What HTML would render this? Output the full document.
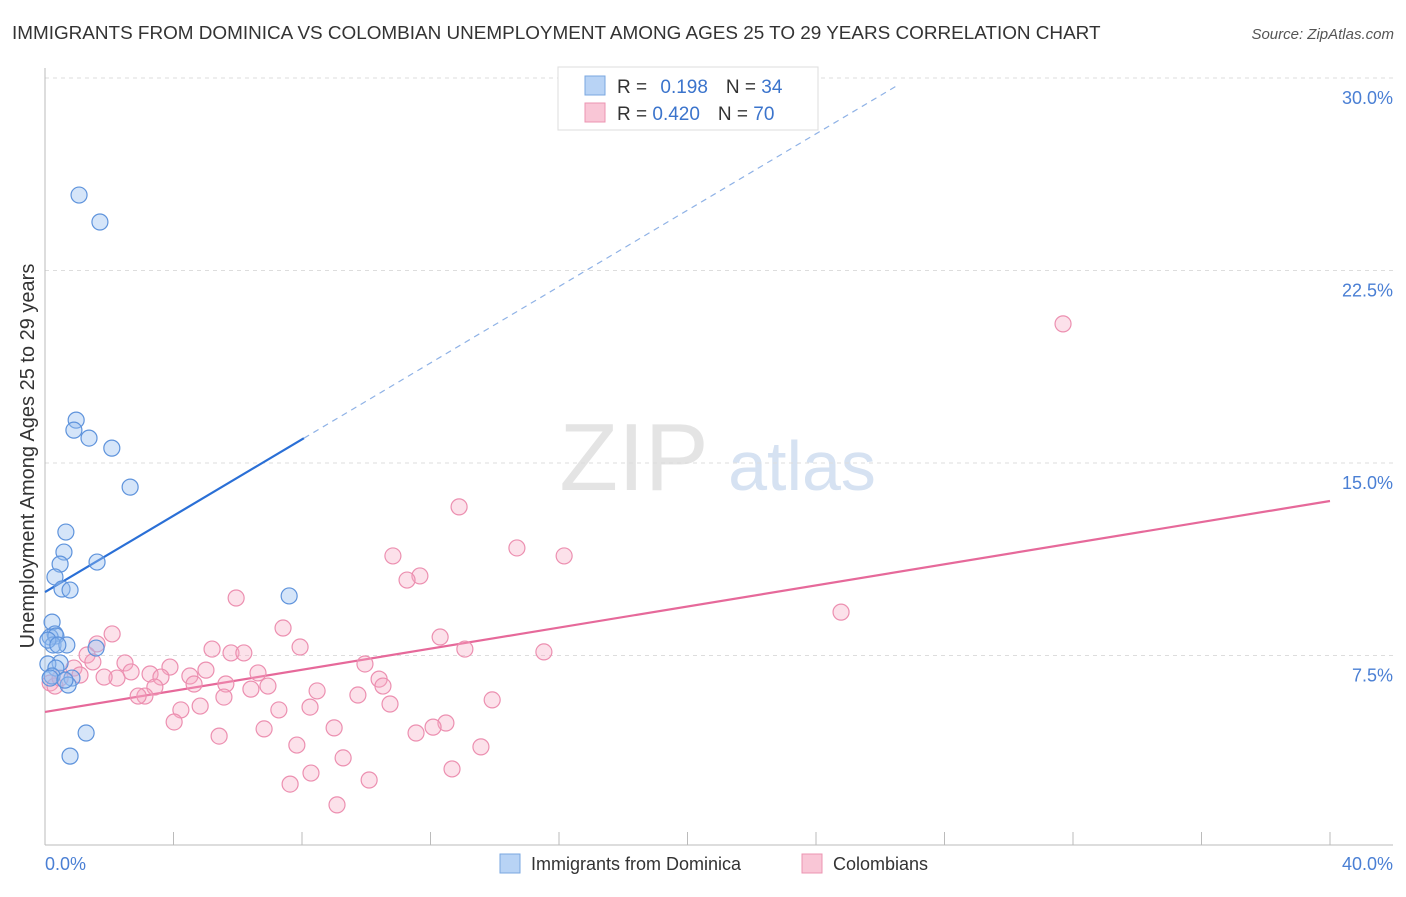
<!DOCTYPE html>
<html><head><meta charset="utf-8"><style>
body{margin:0;background:#fff;font-family:"Liberation Sans",sans-serif;}
svg text{font-family:"Liberation Sans",sans-serif;}
</style></head><body>
<svg id="chart" width="1406" height="892" xmlns="http://www.w3.org/2000/svg">
<text x="12" y="39" font-size="18.9" fill="#333">IMMIGRANTS FROM DOMINICA VS COLOMBIAN UNEMPLOYMENT AMONG AGES 25 TO 29 YEARS CORRELATION CHART</text>
<text x="1394" y="39" font-size="15" fill="#555" font-style="italic" text-anchor="end">Source: ZipAtlas.com</text>
<g>
<text x="634" y="490" font-size="96" fill="#e4e4e4" font-family="Liberation Serif" text-anchor="middle">ZIP</text>
<text x="802" y="490" font-size="70" fill="#d6e2f2" text-anchor="middle">atlas</text>
</g>
<g id="grid"></g><g id="axes"></g><g id="trends"></g><g id="points"></g>
<text x="34" y="456" font-size="20" fill="#333" text-anchor="middle" transform="rotate(-90 34 456)">Unemployment Among Ages 25 to 29 years</text>
<text x="45" y="870" font-size="18" fill="#4a7fd4">0.0%</text>
<text x="1393" y="870" font-size="18" fill="#4a7fd4" text-anchor="end">40.0%</text>
<g>
<rect x="558" y="67" width="260" height="63" fill="#fff" stroke="#ddd"/>
<rect x="585" y="76" width="20" height="19" fill="#b8d3f5" stroke="#7aa7e0"/>
<rect x="585" y="103" width="20" height="19" fill="#f9c6d6" stroke="#ec94b2"/>
<text x="617" y="93" font-size="19" fill="#333">R = <tspan fill="#3b74cc" dx="8">0.198</tspan><tspan dx="18" fill="#333">N = </tspan><tspan fill="#3b74cc">34</tspan></text>
<text x="617" y="120" font-size="19" fill="#333">R = <tspan fill="#3b74cc">0.420</tspan><tspan dx="18" fill="#333">N = </tspan><tspan fill="#3b74cc">70</tspan></text>
</g>
<g>
<rect x="500" y="854" width="20" height="19" fill="#b8d3f5" stroke="#7aa7e0"/>
<text x="531" y="870" font-size="18" fill="#333">Immigrants from Dominica</text>
<rect x="802" y="854" width="20" height="19" fill="#f9c6d6" stroke="#ec94b2"/>
<text x="833" y="870" font-size="18" fill="#333">Colombians</text>
</g>
</svg>
<script>
const yTicks=[7.5,15,22.5,30];
const yTickLabels=["7.5%","15.0%","22.5%","30.0%"];
const xTicks=[0,4,8,12,16,20,24,28,32,36,40];
const blueX=[1.06,1.71,0.97,0.90,1.37,2.08,2.65,0.65,0.59,1.62,0.47,0.31,0.53,0.78,0.22,0.31,0.16,0.34,0.25,0.68,1.59,0.47,0.09,0.34,0.22,0.84,0.72,0.16,1.28,0.78,7.60,0.09,0.40,0.62];
const blueY=[25.44,24.39,16.67,16.28,15.97,15.58,14.06,12.31,11.53,11.14,11.06,10.56,10.09,10.05,8.80,8.34,8.22,8.26,7.91,7.91,7.79,7.21,7.17,7.01,6.70,6.62,6.35,6.62,4.48,3.58,9.82,8.10,7.91,6.54];
const pinkX=[31.69,12.89,14.69,16.16,10.83,11.67,11.27,24.78,5.95,2.09,7.41,12.30,1.62,5.20,7.94,5.79,6.19,13.07,15.53,1.31,1.49,2.49,0.90,3.89,5.01,9.96,6.63,3.27,2.68,4.51,1.09,3.61,10.40,10.52,2.24,1.84,4.64,5.63,6.94,6.41,3.42,8.47,9.74,3.11,2.90,5.57,10.74,13.92,4.83,7.28,8.25,4.23,4.02,9.00,6.82,12.48,12.08,11.55,5.42,7.84,13.57,9.28,12.67,8.28,10.09,7.63,9.09,0.16,0.31,0.47];
const pinkY=[20.42,13.29,11.69,11.38,11.38,10.60,10.44,9.19,9.74,8.34,8.57,8.22,7.95,7.75,7.83,7.60,7.60,7.75,7.64,7.52,7.25,7.21,7.01,7.05,6.93,7.17,6.82,6.78,6.86,6.70,6.74,6.66,6.58,6.31,6.62,6.66,6.39,6.39,6.31,6.19,6.27,6.12,5.96,5.92,5.92,5.88,5.61,5.77,5.53,5.38,5.49,5.38,4.91,4.68,4.64,4.87,4.71,4.48,4.36,4.01,3.94,3.51,3.08,2.92,2.65,2.49,1.68,6.43,6.31,6.62];
const blueTrend=[9.97,0.744]; // intercept, slope
const pinkTrend=[5.30,0.2055];
const NS="http://www.w3.org/2000/svg";
const sx=v=>45+v/40*1285;
const sy=v=>848-v/30*770;
function mk(tag,attrs,parent){const e=document.createElementNS(NS,tag);for(const k in attrs)e.setAttribute(k,attrs[k]);parent.appendChild(e);return e;}
const grid=document.getElementById('grid'),axes=document.getElementById('axes'),tr=document.getElementById('trends'),pts=document.getElementById('points');
yTicks.forEach((t,i)=>{
 const l=mk('line',{x1:45,x2:1393,y1:sy(t),y2:sy(t),stroke:'#ddd','stroke-dasharray':'4,4'},grid);
 
 
 const tx=mk('text',{x:1393,y:sy(t)+26,'font-size':18,fill:'#4a7fd4','text-anchor':'end'},grid);
 tx.textContent=yTickLabels[i];
 
 
});
const ya=mk('line',{x1:45,x2:45,y1:68,y2:845,stroke:'#bbb'},axes);


const xa=mk('line',{x1:45,x2:1393,y1:845,y2:845,stroke:'#bbb'},axes);


xTicks.forEach(t=>{
 const l=mk('line',{x1:sx(t),x2:sx(t),y1:832,y2:845,stroke:'#bbb'},axes);
 
 
});
const bx0=0,bx1=8.06,bx2=26.6;
const b1=mk('line',{x1:sx(bx0),y1:sy(blueTrend[0]),x2:sx(bx1),y2:sy(blueTrend[0]+blueTrend[1]*bx1),stroke:'#2a6fd6','stroke-width':2.2},tr);


const b2=mk('line',{x1:sx(bx1),y1:sy(blueTrend[0]+blueTrend[1]*bx1),x2:sx(bx2),y2:sy(blueTrend[0]+blueTrend[1]*bx2),stroke:'#8fb2e6','stroke-width':1.2,'stroke-dasharray':'6,5'},tr);


const p1=mk('line',{x1:sx(0),y1:sy(pinkTrend[0]),x2:sx(40),y2:sy(pinkTrend[0]+pinkTrend[1]*40),stroke:'#e6699a','stroke-width':2.2},tr);


pinkX.forEach((x,i)=>{
 const c=mk('circle',{cx:sx(x),cy:sy(pinkY[i]),r:8,fill:'rgba(245,170,195,0.35)',stroke:'#ec8fb0','stroke-width':1.2},pts);
 
 
});
blueX.forEach((x,i)=>{
 const c=mk('circle',{cx:sx(x),cy:sy(blueY[i]),r:8,fill:'rgba(150,190,240,0.4)',stroke:'#5e93dc','stroke-width':1.2},pts);
 
 
});
</script>
</body></html>
